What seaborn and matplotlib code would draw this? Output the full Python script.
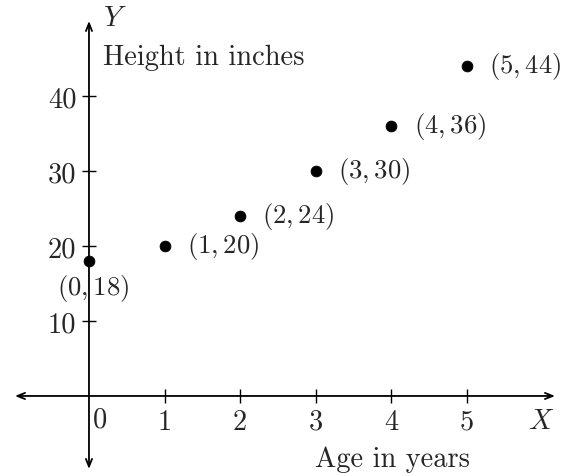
import matplotlib
matplotlib.use("Agg")
import matplotlib.pyplot as plt
import seaborn as sns
import pandas as pd

ages = [0, 1, 2, 3, 4, 5]
heights = [18, 20, 24, 30, 36, 44]
point_labels = ["$(0,18)$", "$(1,20)$", "$(2,24)$", "$(3,30)$", "$(4,36)$", "$(5,44)$"]
x_ticks = [1, 2, 3, 4, 5]
y_ticks = [10, 20, 30, 40]

sns.set_style("white")
plt.rcParams["font.family"] = ["cmr10", "DejaVu Serif"]
plt.rcParams["mathtext.fontset"] = "cm"
plt.rcParams["axes.unicode_minus"] = False
plt.rcParams["axes.formatter.use_mathtext"] = True

FS = 20.5
FS_PT = 19.3
fig = plt.figure(figsize=(5.64, 4.77), dpi=100)
ax = fig.add_axes([0, 0, 1, 1])
ax.set_xlim(-1.177, 6.283)
ax.set_ylim(-10.67, 52.93)

df = pd.DataFrame({"age": ages, "height": heights})
sns.scatterplot(data=df, x="age", y="height", color="black", edgecolor="black",
                s=60, ax=ax, zorder=5, legend=False)

# axes with arrows
arrow = dict(arrowstyle="<->,head_length=0.55,head_width=0.22", color="black", lw=1.3,
             shrinkA=0, shrinkB=0)
ax.annotate("", xy=(6.164, 0), xytext=(-0.979, 0), arrowprops=arrow)
ax.annotate("", xy=(0, 50.0), xytext=(0, -9.73), arrowprops=arrow)

for s in ax.spines.values():
    s.set_visible(False)
ax.spines["left"].set_position(("data", 0))
ax.spines["bottom"].set_position(("data", 0))
ax.set_xticks(x_ticks)
ax.set_yticks(y_ticks)
ax.set_xticklabels([str(v) for v in x_ticks])
ax.set_yticklabels([str(v) for v in y_ticks])
ax.tick_params(axis="both", direction="inout", length=10, width=1.0, color="black",
               labelsize=FS, bottom=True, left=True)
ax.tick_params(axis="x", pad=4)
ax.tick_params(axis="y", pad=4)
ax.set_xlabel("")
ax.set_ylabel("")

# point labels
for xv, yv, lab in zip(ages, heights, point_labels):
    if xv == 0:
        ax.annotate(lab, (xv, yv), xytext=(3.0, -19), textcoords="offset points",
                    ha="center", va="center", fontsize=FS_PT)
    else:
        ax.annotate(lab, (xv, yv), xytext=(16.0, 0), textcoords="offset points",
                    ha="left", va="center", fontsize=FS_PT)

ax.text(0.146, -3.07, "0", ha="center", va="center", fontsize=FS)
ax.text(0.185, 50.4, "$Y$", ha="left", va="center", fontsize=FS)
ax.text(0.185, 45.2, "Height in inches", ha="left", va="center", fontsize=FS)
ax.text(5.98, -3.3, "$X$", ha="center", va="center", fontsize=FS)
ax.text(2.99, -8.4, "Age in years", ha="left", va="center", fontsize=FS)

fig.savefig("out.png", dpi=100, facecolor="white")
